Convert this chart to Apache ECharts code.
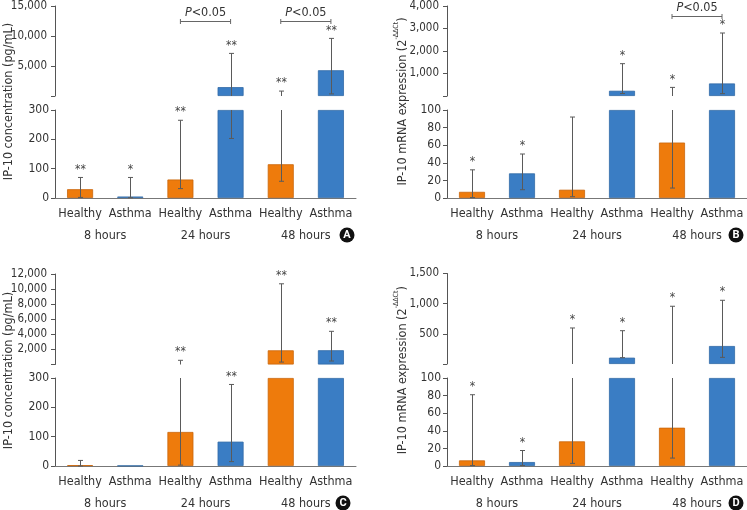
<!DOCTYPE html>
<html>
<head>
<meta charset="utf-8">
<script src="https://cdn.jsdelivr.net/npm/echarts@6/dist/echarts.min.js"></script>
<style>
  html, body { margin: 0; padding: 0; background: #fff; }
  #chart { width: 747px; height: 510px; }
</style>
</head>
<body>
<div id="chart"></div>
<script>
// categories shared by all four panels
var categories = ['Healthy', 'Asthma', 'Healthy', 'Asthma', 'Healthy', 'Asthma']
var timeLabels = ['8 hours', '24 hours', '48 hours']

// A - protein, IP-10 concentration (pg/mL)
var aMean = [30, 5, 63, 1480, 115, 4290]
var aHigh = [70, 70, 265, 7100, 820, 9600]
var aLow = [2, 1, 32, 203, 57, 350]
var aStars = ['**', '*', '**', '**', '**', '**']
var aBrackets = [[2, 3, 12500], [4, 5, 12500]]

// B - mRNA expression
var bMean = [7, 28, 9.4, 233, 63, 558]
var bHigh = [32, 50, 92, 1437, 382, 2800]
var bLow = [0.5, 9.4, 1.5, 110, 11.3, 105]
var bStars = ['*', '*', '', '*', '*', '*']
var bBrackets = [[4, 5, 3560]]

// C - protein
var cMean = [3, 1, 116, 83, 1880, 1890]
var cHigh = [19, null, 557, 278, 10700, 4400]
var cLow = [0, null, 3, 15, 320, 460]
var cStars = ['', '', '**', '**', '**', '**']

// D - mRNA expression
var dMean = [6.4, 4.5, 28, 105, 43.5, 298]
var dHigh = [81, 17.6, 597, 552, 957, 1056]
var dLow = [0.5, 0.5, 3, 105, 9, 110]
var dStars = ['*', '*', '*', '*', '*', '*']

var orange = '#EE7B0C'
var blue = '#3A7DC4'
var font = "'Liberation Sans Narrow', 'DejaVu Sans Condensed', 'Roboto', sans-serif"
var protName = 'IP-10 concentration (pg/mL)'
var mrnaName = '{n|IP-10 mRNA expression (2}{s|-ΔΔCt}{n|)}'

var panels = [
  { key: 'A', mean: aMean, high: aHigh, low: aLow, stars: aStars, brackets: aBrackets,
    cap: 300, lowStep: 100, upMax: 15000, upStep: 5000, name: protName,
    left: 55, width: 301, upTop: 5, upH: 91, lowTop: 110, lowH: 88, nameX: 9, badge: [347, 235] },
  { key: 'B', mean: bMean, high: bHigh, low: bLow, stars: bStars, brackets: bBrackets,
    cap: 100, lowStep: 20, upMax: 4000, upStep: 1000, name: mrnaName,
    left: 447, width: 300, upTop: 5, upH: 91, lowTop: 110, lowH: 88, nameX: 401, badge: [736, 235] },
  { key: 'C', mean: cMean, high: cHigh, low: cLow, stars: cStars, brackets: [],
    cap: 300, lowStep: 100, upMax: 12000, upStep: 2000, name: protName,
    left: 55, width: 301, upTop: 274, upH: 90.5, lowTop: 378, lowH: 89, nameX: 9, badge: [343, 503] },
  { key: 'D', mean: dMean, high: dHigh, low: dLow, stars: dStars, brackets: [],
    cap: 100, lowStep: 20, upMax: 1500, upStep: 500, name: mrnaName,
    left: 447, width: 300, upTop: 273.5, upH: 90.5, lowTop: 378, lowH: 89, nameX: 401, badge: [736, 503] }
]

var option = {
  animation: false,
  backgroundColor: '#fff',
  grid: [], xAxis: [], yAxis: [], series: [], graphic: []
}

function fmt(v) {
  return String(v).replace(/\B(?=(\d{3})+(?!\d))/g, ',')
}

function yAxisOf(gi, max, step, upper) {
  return {
    type: 'value', gridIndex: gi, min: 0, max: max, interval: step,
    axisLine: { show: true, lineStyle: { color: '#555', width: 1 } },
    axisTick: { show: true, length: 4, lineStyle: { color: '#555' } },
    splitLine: { show: false },
    axisLabel: {
      fontFamily: font, fontSize: upper ? 11.5 : 12, color: '#333', margin: upper ? 8 : 6,
      formatter: function (v) { return upper && v === 0 ? '' : fmt(v) }
    }
  }
}

function errorRenderer(p, part) {
  return function (params, api) {
    var i = api.value(0)
    var lo = p.low[i], hi = p.high[i]
    if (hi == null) return
    var a, b, capTop, capBot
    if (part === 'lower') {
      if (lo >= p.cap) return
      a = lo; b = Math.min(hi, p.cap); capTop = hi <= p.cap; capBot = true
    } else {
      if (hi <= p.cap) return
      a = lo > p.cap ? lo : 0; b = hi; capTop = true; capBot = lo > p.cap
    }
    var pa = api.coord([i, a]), pb = api.coord([i, b])
    var st = { stroke: '#5a5a5a', lineWidth: 1 }
    var x = Math.round(pa[0]) + 0.5
    var kids = [{ type: 'line', shape: { x1: x, y1: pa[1], x2: x, y2: pb[1] }, style: st }]
    if (capTop) kids.push({ type: 'line', shape: { x1: x - 2.5, y1: pb[1], x2: x + 2.5, y2: pb[1] }, style: st })
    if (capBot) kids.push({ type: 'line', shape: { x1: x - 2.5, y1: pa[1], x2: x + 2.5, y2: pa[1] }, style: st })
    if (capTop && p.stars[i]) {
      kids.push({ type: 'text', x: x, y: pb[1] - 8,
        style: { text: p.stars[i], fill: '#444', font: '12px ' + font, align: 'center', verticalAlign: 'middle' } })
    }
    return { type: 'group', children: kids }
  }
}

function bracketRenderer(params, api) {
  var p1 = api.coord([api.value(0), api.value(2)])
  var p2 = api.coord([api.value(1), api.value(2)])
  var y = Math.round(p1[1]) + 0.5
  var st = { stroke: '#666', lineWidth: 1 }
  return {
    type: 'group',
    children: [
      { type: 'line', shape: { x1: p1[0], y1: y, x2: p2[0], y2: y }, style: st },
      { type: 'line', shape: { x1: p1[0], y1: y - 2.5, x2: p1[0], y2: y + 2.5 }, style: st },
      { type: 'line', shape: { x1: p2[0], y1: y - 2.5, x2: p2[0], y2: y + 2.5 }, style: st },
      { type: 'text', x: (p1[0] + p2[0]) / 2, y: y - 9,
        style: {
          text: '{i|P}{n|<0.05}', align: 'center', verticalAlign: 'middle',
          rich: {
            i: { fontFamily: font, fontSize: 12.5, fontStyle: 'italic', fill: '#333' },
            n: { fontFamily: font, fontSize: 12.5, fill: '#333' }
          }
        } }
    ]
  }
}

panels.forEach(function (p) {
  var gu = option.grid.length
  option.grid.push({ left: p.left, width: p.width, top: p.upTop, height: p.upH })
  option.grid.push({ left: p.left, width: p.width, top: p.lowTop, height: p.lowH })

  var xu = option.xAxis.length
  option.xAxis.push({ type: 'category', gridIndex: gu, data: categories, show: false })
  option.xAxis.push({
    type: 'category', gridIndex: gu + 1, data: categories, position: 'bottom',
    axisLine: { lineStyle: { color: '#777' } }, axisTick: { show: false },
    axisLabel: { interval: 0, fontFamily: font, fontSize: 12.5, color: '#333', margin: 9 }
  })
  option.xAxis.push({
    type: 'category', gridIndex: gu + 1, data: timeLabels, position: 'bottom', offset: 22,
    axisLine: { show: false }, axisTick: { show: false },
    axisLabel: { interval: 0, fontFamily: font, fontSize: 12.5, color: '#333', margin: 9 }
  })

  var yu = option.yAxis.length
  option.yAxis.push(yAxisOf(gu, p.upMax, p.upStep, true))
  option.yAxis.push(yAxisOf(gu + 1, p.cap, p.lowStep, false))

  var barItem = function (v, i) {
    if (v === '-') return '-'
    var c = i % 2 === 0 ? orange : blue
    return { value: v, itemStyle: { color: c, borderColor: i % 2 === 0 ? '#C9660B' : '#3169A6', borderWidth: 0.8 } }
  }
  option.series.push({
    type: 'bar', xAxisIndex: xu + 1, yAxisIndex: yu + 1, barWidth: 26,
    data: p.mean.map(function (v, i) { return barItem(Math.min(v, p.cap), i) })
  })
  option.series.push({
    type: 'bar', xAxisIndex: xu, yAxisIndex: yu, barWidth: 26,
    data: p.mean.map(function (v, i) { return barItem(v > p.cap ? v : '-', i) })
  })
  var errData = p.mean.map(function (v, i) { return [i, p.low[i], p.high[i]] })
  option.series.push({
    type: 'custom', xAxisIndex: xu + 1, yAxisIndex: yu + 1, z: 5, clip: false,
    renderItem: errorRenderer(p, 'lower'), data: errData, encode: { x: 0, y: 2 }
  })
  option.series.push({
    type: 'custom', xAxisIndex: xu, yAxisIndex: yu, z: 5, clip: false,
    renderItem: errorRenderer(p, 'upper'), data: errData, encode: { x: 0, y: 2 }
  })
  if (p.brackets.length) {
    option.series.push({
      type: 'custom', xAxisIndex: xu, yAxisIndex: yu, z: 5, clip: false,
      renderItem: bracketRenderer, data: p.brackets, encode: { x: [0, 1], y: 2 }
    })
  }

  // rotated y-axis title, centred over both halves of the broken axis
  option.graphic.push({
    type: 'text', x: p.nameX, y: (p.upTop + p.lowTop + p.lowH) / 2, rotation: Math.PI / 2,
    style: {
      text: p.name, align: 'center', verticalAlign: 'middle', fill: '#333',
      font: '12.5px ' + font,
      rich: {
        n: { fontFamily: font, fontSize: 12.5, fill: '#333', lineHeight: 16, verticalAlign: 'bottom' },
        s: { fontFamily: font, fontSize: 7, fill: '#333', lineHeight: 8, verticalAlign: 'top' }
      }
    }
  })
  // panel letter badge
  option.graphic.push({
    type: 'group', x: p.badge[0], y: p.badge[1],
    children: [
      { type: 'circle', shape: { cx: 0, cy: 0, r: 7.5 }, style: { fill: '#111' } },
      { type: 'text', x: 0, y: 0.5, style: { text: p.key, fill: '#fff', font: 'bold 11px Roboto, sans-serif', align: 'center', verticalAlign: 'middle' } }
    ]
  })
})

var chart = echarts.init(document.getElementById('chart'))
chart.setOption(option)
</script>
</body>
</html>
